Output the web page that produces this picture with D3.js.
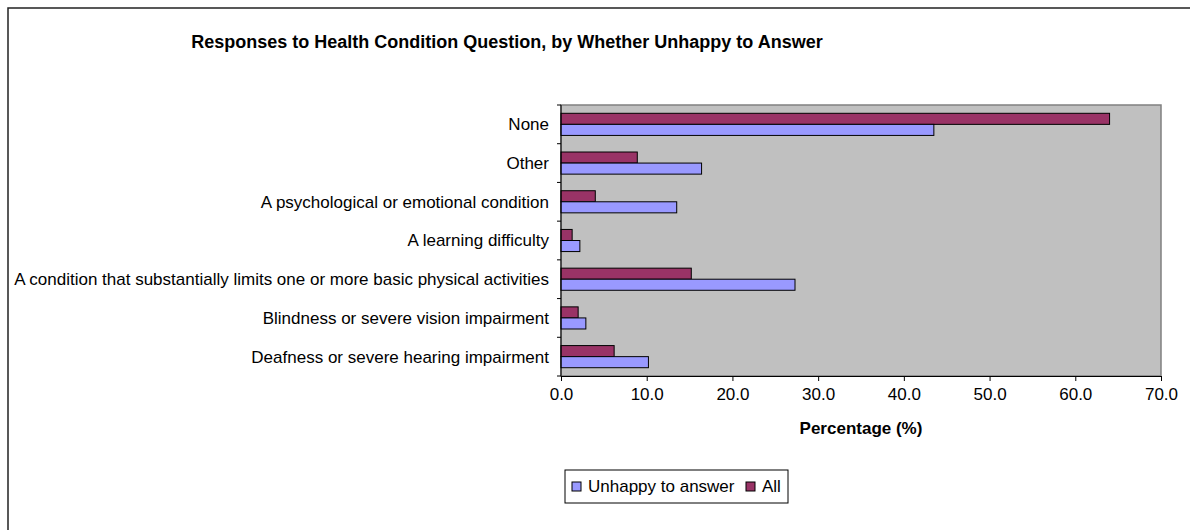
<!DOCTYPE html>
<html>
<head>
<meta charset="utf-8">
<script src="https://cdn.jsdelivr.net/npm/d3@7"></script>
<style>
  body { margin: 0; background: #fff; }
  svg { display: block; font-family: Arial, "Liberation Sans", sans-serif; }
</style>
</head>
<body>
<svg width="1190" height="530"></svg>
<script>
// Data, top to bottom as shown
const categories = [
    "None",
    "Other",
    "A psychological or emotional condition",
    "A learning difficulty",
    "A condition that substantially limits one or more basic physical activities",
    "Blindness or severe vision impairment",
    "Deafness or severe hearing impairment"
];
const unhappyValues = [43.5, 16.4, 13.5, 2.2, 27.3, 2.9, 10.2];
const allValues = [64.0, 8.9, 4.0, 1.3, 15.2, 2.0, 6.2];
const seriesNames = ["Unhappy to answer", "All"];
const xTicks = [0, 10, 20, 30, 40, 50, 60, 70];

const svg = d3.select('svg');

const colors = { "Unhappy to answer": "#9999FF", "All": "#993366" };

const plot = { left: 561, top: 105, right: 1161, bottom: 376 };

// Outer chart frame (runs off the picture on right and bottom)
svg.append("rect")
    .attr("x", 8)
    .attr("y", 8)
    .attr("width", 1300)
    .attr("height", 700)
    .attr("fill", "none")
    .attr("stroke", "#222")
    .attr("stroke-width", 1.5);

// Title
svg.append("text")
    .attr("x", 507)
    .attr("y", 48)
    .attr("text-anchor", "middle")
    .style("font-size", "18px")
    .style("font-weight", "bold")
    .text("Responses to Health Condition Question, by Whether Unhappy to Answer");

const x = d3.scaleLinear()
    .domain([0, 70])
    .range([plot.left, plot.right]);

const y = d3.scaleBand()
    .domain(categories)
    .range([plot.top, plot.bottom])
    .paddingInner(1.5 / 3.5)
    .paddingOuter(0.75 / 3.5);

// All sits above Unhappy inside each group
const ySeries = d3.scaleBand()
    .domain(["All", "Unhappy to answer"])
    .range([0, y.bandwidth()]);

// Plot background
svg.append("rect")
    .attr("x", plot.left)
    .attr("y", plot.top)
    .attr("width", plot.right - plot.left)
    .attr("height", plot.bottom - plot.top)
    .attr("fill", "#C0C0C0")
    .attr("stroke", "#808080")
    .attr("stroke-width", 1.5);

const rows = categories.map((c, i) => ({
    category: c,
    values: [
        { name: "All", value: allValues[i] },
        { name: "Unhappy to answer", value: unhappyValues[i] }
    ]
}));

const group = svg.selectAll("g.row")
    .data(rows)
    .enter().append("g")
    .attr("class", "row")
    .attr("transform", d => `translate(0,${y(d.category)})`);

group.selectAll("rect")
    .data(d => d.values)
    .enter().append("rect")
    .attr("x", x(0))
    .attr("y", d => ySeries(d.name))
    .attr("width", d => x(d.value) - x(0))
    .attr("height", ySeries.bandwidth())
    .attr("fill", d => colors[d.name])
    .attr("stroke", "#000")
    .attr("stroke-width", 1);

// Y axis: line, ticks at category boundaries, labels
const step = y.step();
svg.append("line")
    .attr("x1", plot.left).attr("x2", plot.left)
    .attr("y1", plot.top).attr("y2", plot.bottom)
    .attr("stroke", "#000");

svg.selectAll("line.ytick")
    .data(d3.range(categories.length + 1))
    .enter().append("line")
    .attr("class", "ytick")
    .attr("x1", plot.left - 4).attr("x2", plot.left)
    .attr("y1", i => plot.top + i * step)
    .attr("y2", i => plot.top + i * step)
    .attr("stroke", "#000");

svg.selectAll("text.ylabel")
    .data(categories)
    .enter().append("text")
    .attr("class", "ylabel")
    .attr("x", plot.left - 12)
    .attr("y", d => y(d) + y.bandwidth() / 2)
    .attr("dy", "0.35em")
    .attr("text-anchor", "end")
    .style("font-size", "17px")
    .text(d => d);

// X axis
const xAxis = d3.axisBottom(x)
    .tickValues(xTicks)
    .tickSize(5)
    .tickPadding(7)
    .tickFormat(d3.format(".1f"));

const xg = svg.append("g")
    .attr("transform", `translate(0,${plot.bottom})`)
    .call(xAxis);
xg.select(".domain").attr("stroke", "#000");
xg.selectAll(".tick line").attr("stroke", "#000");
xg.selectAll(".tick text")
    .style("font-size", "17px")
    .style("font-family", "Arial, 'Liberation Sans', sans-serif")
    .attr("fill", "#000");

svg.append("text")
    .attr("x", (plot.left + plot.right) / 2)
    .attr("y", 434)
    .attr("text-anchor", "middle")
    .style("font-size", "17px")
    .style("font-weight", "bold")
    .text("Percentage (%)");

// Legend
const legend = svg.append("g");
legend.append("rect")
    .attr("x", 565)
    .attr("y", 470)
    .attr("width", 223)
    .attr("height", 33)
    .attr("fill", "#fff")
    .attr("stroke", "#000");

const legendX = [572, 746];
const legendItems = legend.selectAll("g.item")
    .data(seriesNames)
    .enter().append("g")
    .attr("class", "item")
    .attr("transform", (d, i) => `translate(${legendX[i]},486.5)`);

legendItems.append("rect")
    .attr("x", 0)
    .attr("y", -4.5)
    .attr("width", 9)
    .attr("height", 9)
    .attr("fill", d => colors[d])
    .attr("stroke", "#000");

legendItems.append("text")
    .attr("x", 16)
    .attr("y", 0)
    .attr("dy", "0.35em")
    .style("font-size", "17px")
    .text(d => d);
</script>
</body>
</html>
